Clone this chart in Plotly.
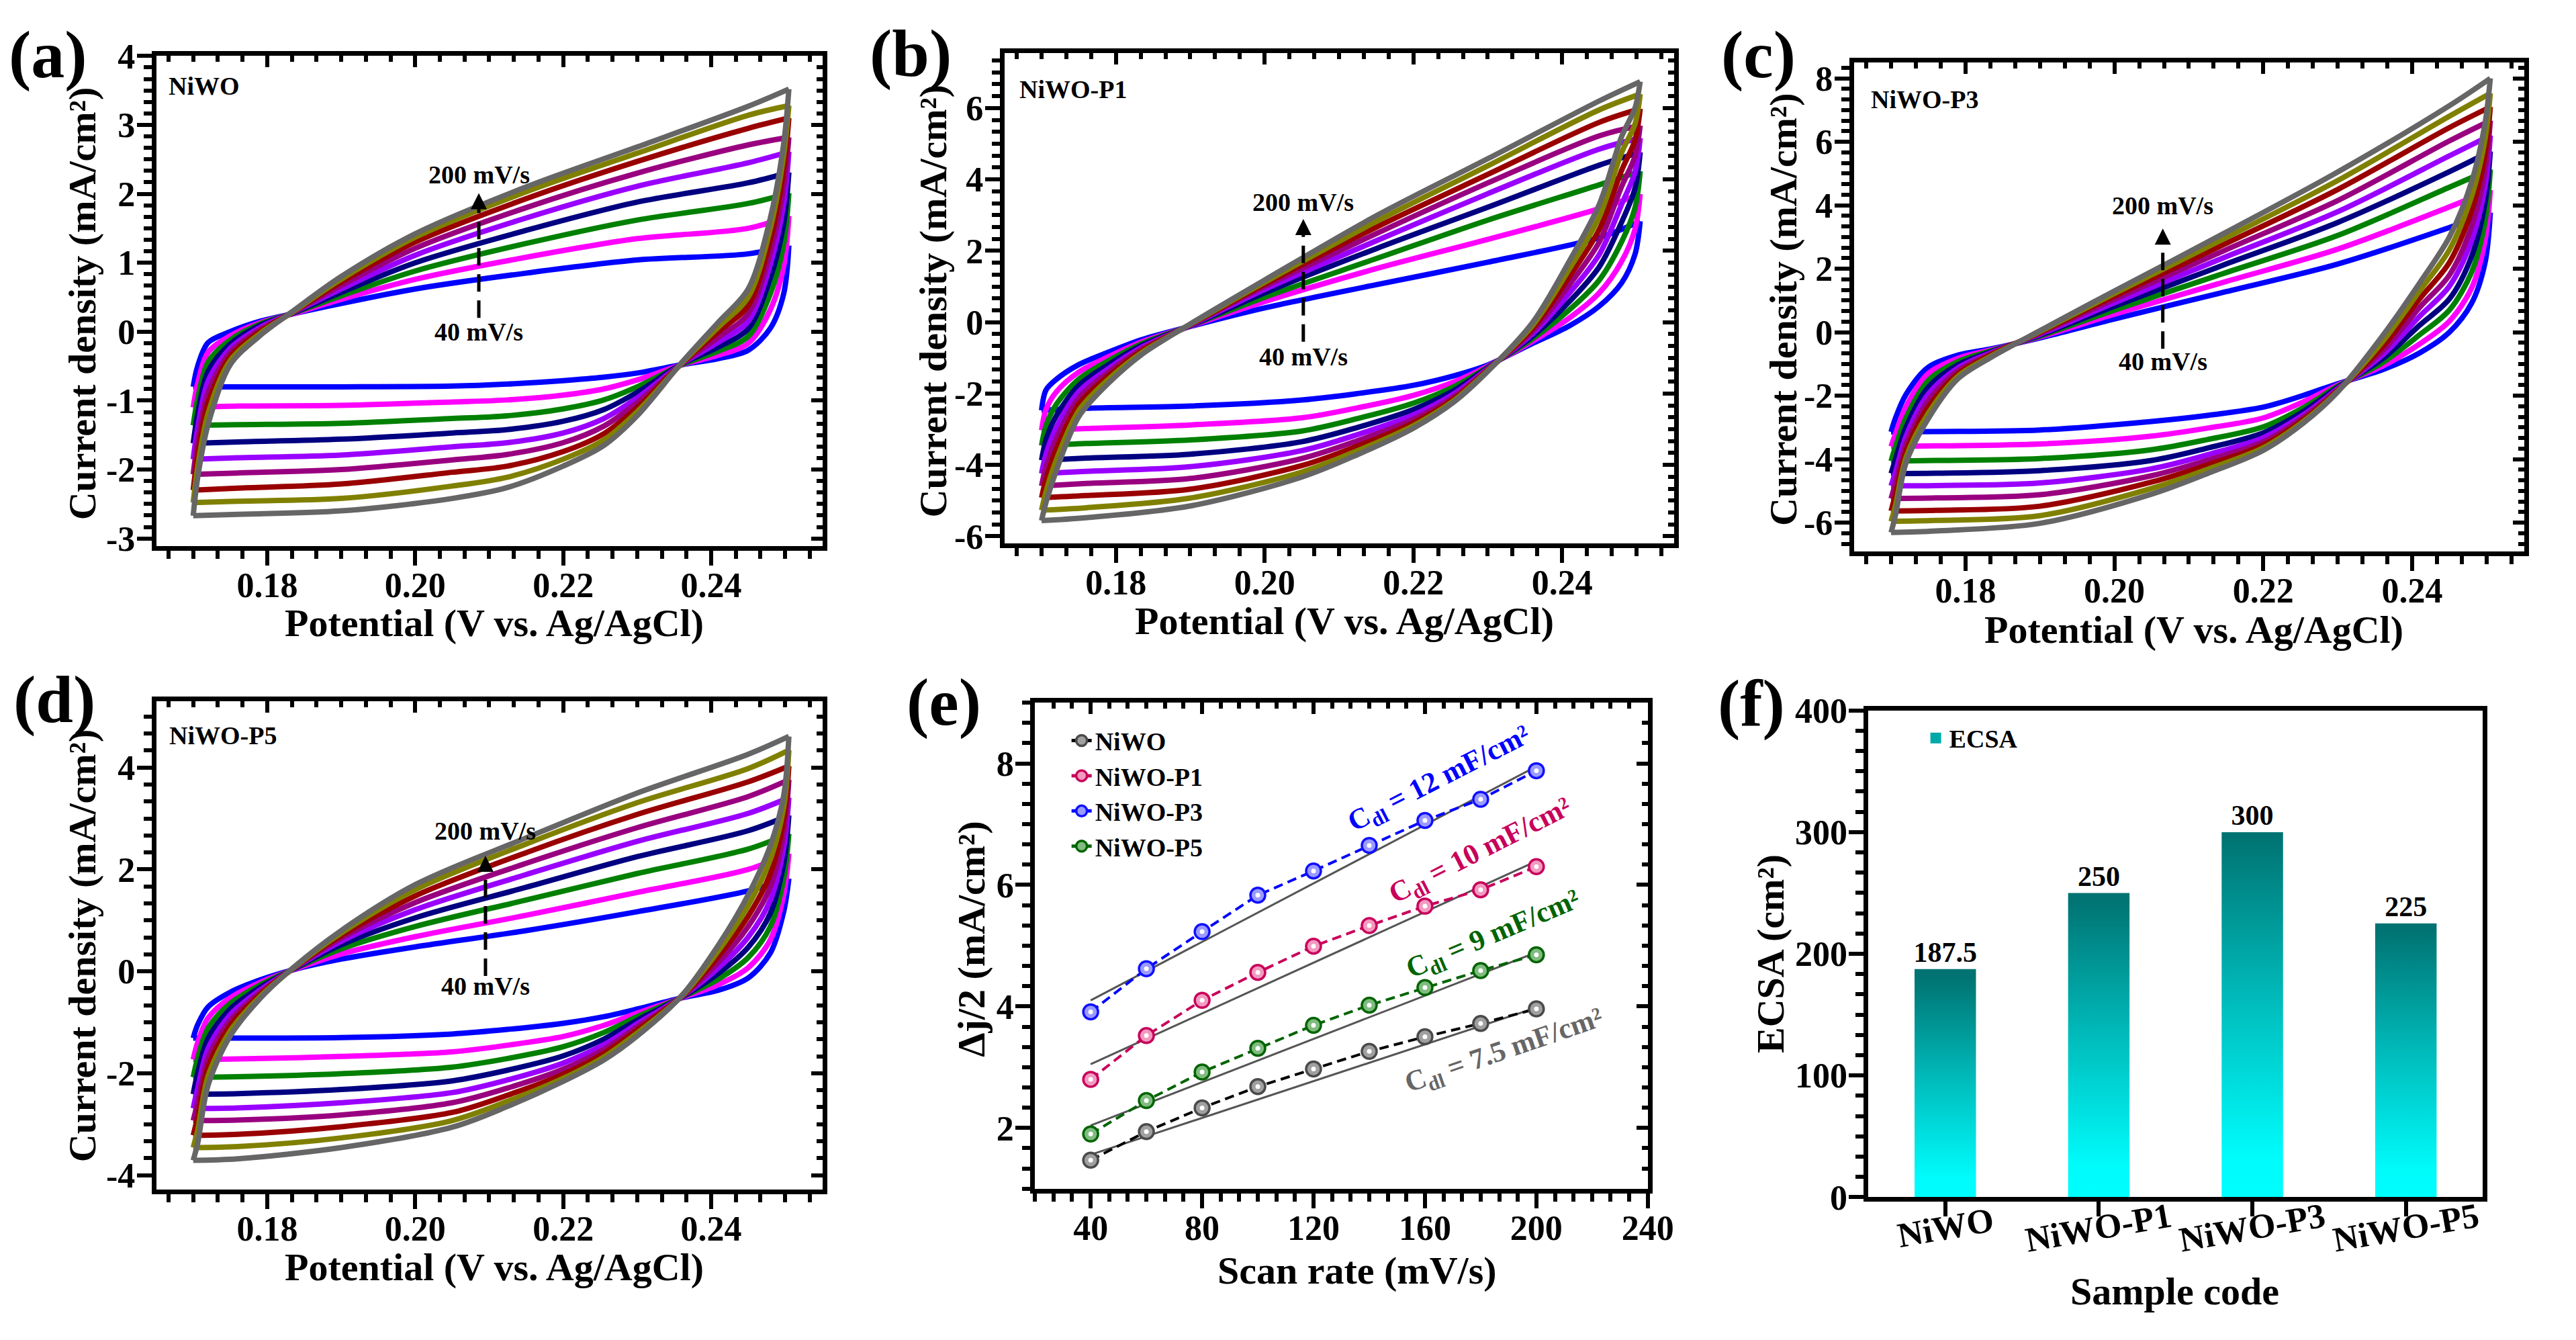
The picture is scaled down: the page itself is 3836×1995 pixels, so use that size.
import plotly.graph_objects as go

W, H = 3836, 1995
FONT = "Liberation Serif"

# ---------------------------------------------------------------- CV data (a-d)
SCAN_RATES = [40, 60, 80, 100, 120, 140, 160, 180, 200]  # mV/s
CV_COLORS = ["#0000FF", "#FF00FF", "#008000", "#000080", "#9900FF",
             "#990080", "#990000", "#808000", "#666666"]

# potentials (V) of the forward (anodic) and reverse (cathodic) branches
UP_X = [0.1700, 0.1706, 0.1720, 0.1750, 0.1790, 0.1835, 0.1900, 0.2000, 0.2150, 0.2300, 0.2450, 0.2505]
LO_X = [0.2505, 0.2498, 0.2480, 0.2450, 0.2410, 0.2360, 0.2300, 0.2255, 0.2200, 0.2125, 0.2050,
        0.1900, 0.1760, 0.1700]

# rows follow UP_X / LO_X, columns follow SCAN_RATES (mA/cm2)
A_UP = [
    [-0.80, -1.10, -1.36, -1.62, -1.85, -2.07, -2.30, -2.48, -2.67],
    [-0.50, -0.75, -0.98, -1.20, -1.40, -1.60, -1.80, -1.97, -2.12],
    [-0.16, -0.30, -0.44, -0.58, -0.72, -0.88, -1.03, -1.19, -1.35],
    [0.00, -0.06, -0.12, -0.18, -0.24, -0.30, -0.36, -0.42, -0.48],
    [0.15, 0.13, 0.11, 0.09, 0.06, 0.03, 0.00, -0.03, -0.06],
    [0.26, 0.26, 0.27, 0.27, 0.28, 0.28, 0.29, 0.29, 0.30],
    [0.41, 0.47, 0.52, 0.57, 0.62, 0.67, 0.72, 0.76, 0.80],
    [0.62, 0.76, 0.88, 1.00, 1.11, 1.21, 1.30, 1.37, 1.42],
    [0.85, 1.08, 1.28, 1.47, 1.65, 1.80, 1.93, 2.03, 2.10],
    [1.04, 1.35, 1.62, 1.88, 2.11, 2.30, 2.47, 2.59, 2.68],
    [1.13, 1.50, 1.86, 2.16, 2.45, 2.71, 2.95, 3.14, 3.27],
    [1.25, 1.68, 2.01, 2.31, 2.61, 2.82, 3.10, 3.28, 3.52],
]
A_LO = [
    [1.25, 1.68, 2.01, 2.31, 2.61, 2.82, 3.10, 3.28, 3.52],
    [0.55, 0.95, 1.27, 1.57, 1.85, 2.10, 2.35, 2.56, 2.73],
    [0.05, 0.32, 0.55, 0.78, 0.98, 1.15, 1.33, 1.50, 1.65],
    [-0.27, -0.17, -0.07, 0.04, 0.15, 0.26, 0.38, 0.50, 0.62],
    [-0.39, -0.34, -0.28, -0.22, -0.15, -0.08, 0.00, 0.07, 0.14],
    [-0.48, -0.48, -0.48, -0.47, -0.47, -0.47, -0.46, -0.46, -0.45],
    [-0.60, -0.70, -0.80, -0.88, -0.96, -1.03, -1.10, -1.16, -1.22],
    [-0.66, -0.83, -0.99, -1.13, -1.26, -1.37, -1.48, -1.57, -1.65],
    [-0.71, -0.92, -1.12, -1.30, -1.47, -1.61, -1.74, -1.85, -1.95],
    [-0.76, -0.99, -1.22, -1.42, -1.61, -1.78, -1.95, -2.11, -2.26],
    [-0.79, -1.02, -1.26, -1.47, -1.67, -1.86, -2.04, -2.24, -2.42],
    [-0.80, -1.07, -1.33, -1.56, -1.79, -2.00, -2.21, -2.42, -2.60],
    [-0.80, -1.08, -1.35, -1.60, -1.83, -2.05, -2.27, -2.46, -2.65],
    [-0.80, -1.10, -1.36, -1.62, -1.85, -2.07, -2.30, -2.48, -2.67],
]

B_UP = [
    [-2.47, -3.03, -3.46, -3.87, -4.24, -4.59, -4.92, -5.27, -5.56],
    [-1.90, -2.45, -2.90, -3.30, -3.70, -4.05, -4.40, -4.75, -5.05],
    [-1.60, -1.95, -2.30, -2.62, -2.95, -3.25, -3.55, -3.85, -4.15],
    [-1.19, -1.40, -1.60, -1.78, -1.95, -2.12, -2.30, -2.48, -2.65],
    [-0.84, -0.97, -1.08, -1.19, -1.30, -1.40, -1.50, -1.60, -1.71],
    [-0.49, -0.55, -0.60, -0.65, -0.70, -0.75, -0.80, -0.85, -0.90],
    [-0.12, -0.11, -0.10, -0.10, -0.09, -0.08, -0.07, -0.06, -0.05],
    [0.40, 0.58, 0.70, 0.82, 0.92, 1.00, 1.06, 1.12, 1.18],
    [1.05, 1.50, 1.78, 2.06, 2.28, 2.48, 2.66, 2.82, 2.98],
    [1.68, 2.32, 2.86, 3.22, 3.60, 3.90, 4.14, 4.38, 4.58],
    [2.37, 3.18, 3.85, 4.40, 4.85, 5.22, 5.60, 5.95, 6.20],
    [2.83, 3.59, 4.23, 4.76, 5.16, 5.51, 5.98, 6.39, 6.74],
]
B_LO = [
    [2.83, 3.59, 4.23, 4.76, 5.16, 5.51, 5.98, 6.39, 6.74],
    [1.90, 2.60, 3.20, 3.75, 4.20, 4.65, 5.10, 5.55, 6.00],
    [1.10, 1.70, 2.25, 2.80, 3.30, 3.80, 4.25, 4.75, 5.20],
    [0.45, 0.82, 1.18, 1.55, 1.90, 2.25, 2.60, 2.95, 3.30],
    [-0.10, 0.12, 0.35, 0.58, 0.82, 1.05, 1.28, 1.50, 1.72],
    [-0.60, -0.54, -0.47, -0.40, -0.33, -0.26, -0.18, -0.10, -0.02],
    [-1.20, -1.23, -1.26, -1.28, -1.30, -1.32, -1.34, -1.36, -1.38],
    [-1.50, -1.67, -1.80, -1.91, -2.00, -2.08, -2.14, -2.19, -2.23],
    [-1.77, -2.05, -2.27, -2.45, -2.60, -2.72, -2.82, -2.90, -2.97],
    [-2.00, -2.40, -2.70, -2.95, -3.15, -3.32, -3.47, -3.60, -3.71],
    [-2.18, -2.68, -3.05, -3.35, -3.60, -3.82, -4.02, -4.20, -4.34],
    [-2.35, -2.88, -3.30, -3.70, -4.05, -4.38, -4.68, -4.93, -5.15],
    [-2.41, -2.98, -3.40, -3.81, -4.18, -4.52, -4.86, -5.20, -5.48],
    [-2.47, -3.03, -3.46, -3.87, -4.24, -4.59, -4.92, -5.27, -5.56],
]

C_UP = [
    [-3.14, -3.60, -4.06, -4.45, -4.84, -5.24, -5.63, -5.96, -6.31],
    [-2.70, -3.20, -3.60, -4.00, -4.40, -4.75, -5.10, -5.45, -5.75],
    [-1.96, -2.35, -2.70, -3.00, -3.28, -3.52, -3.75, -3.95, -4.12],
    [-1.10, -1.30, -1.52, -1.73, -1.95, -2.15, -2.35, -2.55, -2.72],
    [-0.72, -0.82, -0.92, -1.02, -1.12, -1.21, -1.30, -1.38, -1.46],
    [-0.52, -0.55, -0.58, -0.61, -0.64, -0.67, -0.70, -0.74, -0.78],
    [-0.18, -0.15, -0.12, -0.09, -0.06, -0.03, 0.00, 0.02, 0.05],
    [0.42, 0.57, 0.70, 0.82, 0.93, 1.04, 1.14, 1.22, 1.30],
    [1.28, 1.60, 1.88, 2.15, 2.38, 2.60, 2.80, 2.98, 3.15],
    [2.15, 2.62, 3.05, 3.46, 3.80, 4.15, 4.50, 4.78, 5.05],
    [3.30, 3.95, 4.57, 5.06, 5.56, 6.03, 6.45, 6.81, 7.14],
    [3.77, 4.48, 5.13, 5.70, 6.20, 6.67, 7.10, 7.53, 8.00],
]
C_LO = [
    [3.77, 4.48, 5.13, 5.70, 6.20, 6.67, 7.10, 7.53, 8.00],
    [2.20, 2.90, 3.50, 4.10, 4.60, 5.10, 5.60, 6.10, 6.60],
    [0.92, 1.40, 1.90, 2.40, 2.90, 3.35, 3.85, 4.30, 4.75],
    [0.00, 0.35, 0.70, 1.05, 1.45, 1.80, 2.20, 2.60, 3.00],
    [-0.65, -0.37, -0.08, 0.22, 0.50, 0.78, 1.05, 1.30, 1.55],
    [-1.18, -1.07, -0.96, -0.84, -0.72, -0.60, -0.46, -0.30, -0.12],
    [-1.62, -1.66, -1.70, -1.74, -1.78, -1.81, -1.84, -1.86, -1.88],
    [-1.98, -2.18, -2.36, -2.48, -2.58, -2.66, -2.73, -2.79, -2.84],
    [-2.36, -2.70, -2.98, -3.17, -3.32, -3.45, -3.55, -3.64, -3.72],
    [-2.62, -3.02, -3.38, -3.65, -3.86, -4.03, -4.18, -4.32, -4.45],
    [-2.81, -3.27, -3.70, -4.04, -4.30, -4.52, -4.72, -4.92, -5.10],
    [-3.08, -3.52, -3.98, -4.36, -4.75, -5.12, -5.48, -5.78, -6.02],
    [-3.13, -3.58, -4.04, -4.44, -4.83, -5.22, -5.61, -5.93, -6.26],
    [-3.14, -3.60, -4.06, -4.45, -4.84, -5.24, -5.63, -5.96, -6.31],
]

D_UP = [
    [-1.31, -1.73, -2.08, -2.41, -2.69, -2.93, -3.22, -3.46, -3.71],
    [-1.05, -1.40, -1.70, -2.00, -2.30, -2.58, -2.86, -3.12, -3.38],
    [-0.70, -0.92, -1.12, -1.32, -1.52, -1.70, -1.88, -2.06, -2.24],
    [-0.41, -0.52, -0.63, -0.74, -0.85, -0.96, -1.06, -1.17, -1.27],
    [-0.17, -0.22, -0.27, -0.32, -0.37, -0.42, -0.46, -0.50, -0.54],
    [0.03, 0.03, 0.04, 0.04, 0.05, 0.05, 0.06, 0.06, 0.07],
    [0.24, 0.34, 0.44, 0.52, 0.59, 0.65, 0.70, 0.75, 0.80],
    [0.48, 0.68, 0.88, 1.05, 1.21, 1.35, 1.48, 1.60, 1.70],
    [0.80, 1.10, 1.40, 1.65, 1.90, 2.12, 2.33, 2.50, 2.62],
    [1.17, 1.55, 1.92, 2.25, 2.55, 2.82, 3.08, 3.31, 3.50],
    [1.58, 2.00, 2.40, 2.76, 3.10, 3.43, 3.72, 3.98, 4.26],
    [1.82, 2.31, 2.70, 3.06, 3.41, 3.76, 4.03, 4.34, 4.61],
]
D_LO = [
    [1.82, 2.31, 2.70, 3.06, 3.41, 3.76, 4.03, 4.34, 4.61],
    [1.17, 1.50, 1.82, 2.12, 2.42, 2.70, 2.98, 3.22, 3.45],
    [0.36, 0.62, 0.88, 1.14, 1.40, 1.66, 1.92, 2.20, 2.47],
    [-0.13, 0.07, 0.27, 0.47, 0.67, 0.88, 1.08, 1.29, 1.50],
    [-0.37, -0.26, -0.15, -0.04, 0.07, 0.18, 0.30, 0.41, 0.52],
    [-0.52, -0.52, -0.51, -0.51, -0.50, -0.50, -0.49, -0.49, -0.48],
    [-0.74, -0.82, -0.89, -0.96, -1.03, -1.09, -1.15, -1.21, -1.27],
    [-0.89, -1.06, -1.20, -1.33, -1.44, -1.53, -1.61, -1.68, -1.74],
    [-1.02, -1.28, -1.48, -1.66, -1.80, -1.92, -2.02, -2.10, -2.16],
    [-1.14, -1.45, -1.71, -1.94, -2.13, -2.29, -2.43, -2.55, -2.65],
    [-1.23, -1.58, -1.88, -2.15, -2.38, -2.58, -2.77, -2.93, -3.06],
    [-1.30, -1.67, -2.01, -2.32, -2.58, -2.82, -3.05, -3.27, -3.46],
    [-1.31, -1.72, -2.07, -2.40, -2.68, -2.92, -3.20, -3.44, -3.68],
    [-1.31, -1.73, -2.08, -2.41, -2.69, -2.93, -3.22, -3.46, -3.71],
]

# ---------------------------------------------------------------- panel (e)
E_RATES = [40, 60, 80, 100, 120, 140, 160, 180, 200]
E_NAMES = ["NiWO", "NiWO-P1", "NiWO-P3", "NiWO-P5"]
E_NIWO = [1.47, 1.94, 2.33, 2.68, 2.97, 3.26, 3.50, 3.72, 3.96]
E_P1 = [2.80, 3.52, 4.10, 4.56, 4.99, 5.33, 5.65, 5.92, 6.30]
E_P3 = [3.91, 4.62, 5.23, 5.83, 6.23, 6.65, 7.06, 7.41, 7.88]
E_P5 = [1.90, 2.45, 2.92, 3.31, 3.69, 4.02, 4.31, 4.59, 4.85]
FIT_X = [40, 200]
FIT_NIWO = [1.56, 3.98]
FIT_P1 = [3.05, 6.39]
FIT_P3 = [4.10, 7.95]
FIT_P5 = [2.04, 4.89]
CDL = [7.5, 10, 12, 9]  # mF/cm2, order of E_NAMES

# ---------------------------------------------------------------- panel (f)
SAMPLES = ["NiWO", "NiWO-P1", "NiWO-P3", "NiWO-P5"]
ECSA = [187.5, 250, 300, 225]

# ================================================================ layout helpers
BOX = {  # pixel boxes: x0, x1, ytop, ybottom
    "a": (235, 1238, 57, 808),
    "b": (1511, 2519, 52, 804),
    "c": (2789, 3798, 67, 816),
    "d": (235, 1238, 1046, 1794),
    "e": (1557, 2479, 1048, 1793),
    "f": (2811, 3735, 1060, 1806),
}


def xdom(p):
    b = BOX[p]
    return [b[0] / W, b[1] / W]


def ydom(p):
    b = BOX[p]
    return [1 - b[3] / H, 1 - b[2] / H]


def bold(size, color="black"):
    return dict(family=FONT, size=size, color=color, weight="bold")


def main_axis(dom, rng, anchor, dtick=None, tick0=None, mdtick=None,
              tickvals=None, ticktext=None, tickformat=None, standoff=-15):
    d = dict(domain=dom, range=rng, anchor=anchor, showline=True, linewidth=7,
             linecolor="black", mirror=True, ticks="outside", ticklen=22,
             tickwidth=6, tickcolor="black", showgrid=False, zeroline=False,
             tickfont=bold(52), ticklabelstandoff=standoff)
    if tickvals is not None:
        d.update(tickmode="array", tickvals=tickvals, ticktext=ticktext)
    else:
        d.update(tickmode="linear", dtick=dtick, tick0=tick0)
    if tickformat:
        d["tickformat"] = tickformat
    if mdtick:
        d["minor"] = dict(tickmode="linear", tick0=tick0 if tick0 is not None else 0,
                          dtick=mdtick, ticks="outside", ticklen=12, tickwidth=6,
                          tickcolor="black", showgrid=False)
    return d


def mirror_axis(base, anchor, side, rng, dtick, tick0, mdtick):
    return dict(overlaying=base, anchor=anchor, side=side, range=rng,
                tickmode="linear", dtick=dtick, tick0=tick0, ticks="inside",
                ticklen=17, tickwidth=6, tickcolor="black", showticklabels=False,
                showline=False, showgrid=False, zeroline=False,
                minor=dict(tickmode="linear", tick0=tick0, dtick=mdtick,
                           ticks="inside", ticklen=9, tickwidth=6,
                           tickcolor="black", showgrid=False))


fig = go.Figure()
layout = dict(width=W, height=H, margin=dict(l=0, r=0, t=0, b=0),
              paper_bgcolor="white", plot_bgcolor="white",
              font=dict(family=FONT, size=38, color="black", weight="bold"),
              hovermode=False, annotations=[])
ann = layout["annotations"]


def paper_text(text, px, py, size, angle=0, xanchor="center", yanchor="middle", color="black"):
    ann.append(dict(x=px / W, y=1 - py / H, xref="paper", yref="paper", text=text,
                    showarrow=False, xanchor=xanchor, yanchor=yanchor,
                    textangle=angle, font=bold(size, color)))


XR = [0.1650, 0.2551]
CV = [
    # panel, axis suffix, up, lo, yrange, ytick step, minor step, sample label
    ("a", "", A_UP, A_LO, [-3.11, 4.0], 1, 1 / 6, "NiWO"),
    ("b", "2", B_UP, B_LO, [-6.2, 7.55], 2, 1 / 3, "NiWO-P1"),
    ("c", "3", C_UP, C_LO, [-6.9, 8.5], 2, 1 / 3, "NiWO-P3"),
    ("d", "4", D_UP, D_LO, [-4.28, 5.3], 2, 1 / 3, "NiWO-P5"),
]
MIRROR_ID = {"a": "7", "b": "8", "c": "9", "d": "10", "e": "11"}

ARROW = {  # x, y_start, y_tip, y of "200 mV/s", y of "40 mV/s"   (data units)
    "a": (0.2086, 0.20, 2.01, 2.28, 0.00),
    "b": (0.2052, -0.55, 2.89, 3.36, -0.96),
    "c": (0.2065, -0.52, 3.27, 3.99, -0.92),
    "d": (0.2095, -0.09, 2.27, 2.76, -0.29),
}
SAMPLE_POS = {"a": (252, 103), "b": (1532, 108), "c": (2813, 124), "d": (253, 1098)}

for p, s, up, lo, yr, step, mstep, label in CV:
    xa, ya = "x" + s, "y" + s
    for k, rate in enumerate(SCAN_RATES):
        for xs, rows in ((UP_X, up), (LO_X, lo)):
            fig.add_trace(go.Scatter(
                x=xs, y=[r[k] for r in rows], mode="lines",
                line=dict(color=CV_COLORS[k], width=8, shape="spline", smoothing=0.9),
                xaxis=xa, yaxis=ya, showlegend=False, name=f"{rate} mV/s"))
    tv = []
    v = (int(yr[0] // step) + 1) * step
    while v <= yr[1] + 1e-9:
        tv.append(int(v))
        v += step
    layout["xaxis" + s] = main_axis(xdom(p), XR, ya, dtick=0.02, tick0=0.18,
                                    mdtick=0.02 / 6, tickformat=".2f")
    layout["yaxis" + s] = main_axis(ydom(p), yr, xa, tick0=0, mdtick=mstep,
                                    tickvals=tv, ticktext=[str(t) for t in tv],
                                    standoff=-8)
    m = MIRROR_ID[p]
    layout["xaxis" + m] = mirror_axis(xa, ya, "top", XR, 0.02, 0.18, 0.02 / 6)
    layout["yaxis" + m] = mirror_axis(ya, xa, "right", yr, step, 0, mstep)
    fig.add_trace(go.Scatter(x=[None], y=[None], xaxis="x" + m, yaxis=ya, showlegend=False))
    fig.add_trace(go.Scatter(x=[None], y=[None], xaxis=xa, yaxis="y" + m, showlegend=False))

    ax_, y0, y1, ytop, ybot = ARROW[p]
    span = yr[1] - yr[0]
    fig.add_trace(go.Scatter(x=[ax_, ax_], y=[y0, y1 - 0.02 * span], mode="lines",
                             line=dict(color="black", width=5, dash="26px,13px"),
                             xaxis=xa, yaxis=ya, showlegend=False))
    fig.add_trace(go.Scatter(x=[ax_], y=[y1], mode="markers",
                             marker=dict(symbol="arrow-up", size=24, color="black",
                                         line=dict(width=0)),
                             xaxis=xa, yaxis=ya, showlegend=False))
    ann.append(dict(x=ax_, y=ytop, xref=xa, yref=ya, text="200 mV/s", showarrow=False,
                    font=bold(38)))
    ann.append(dict(x=ax_, y=ybot, xref=xa, yref=ya, text="40 mV/s", showarrow=False,
                    font=bold(38)))
    sx, sy = SAMPLE_POS[p]
    paper_text(label, sx, sy, 38, xanchor="left")

# ---------------------------------------------------------------- panel (e)
E_SERIES = [E_NIWO, E_P1, E_P3, E_P5]
E_FITS = [FIT_NIWO, FIT_P1, FIT_P3, FIT_P5]
E_LINE = ["#000000", "#C8005A", "#0000FF", "#006400"]
E_RING = ["#4A4A4A", "#C8005A", "#1010FF", "#006400"]
E_FILL = ["#A0A0A0", "#F29AC0", "#9A9AFF", "#80BB80"]
CDL_COLORS = ["#666666", "#C8005A", "#0000FF", "#006400"]

for i, name in enumerate(E_NAMES):
    fig.add_trace(go.Scatter(x=FIT_X, y=E_FITS[i], mode="lines",
                             line=dict(color="#555555", width=3),
                             xaxis="x5", yaxis="y5", showlegend=False))
for i, name in enumerate(E_NAMES):
    mk = dict(symbol="circle", size=22, color=E_FILL[i], line=dict(color=E_RING[i], width=3.5))
    fig.add_trace(go.Scatter(x=E_RATES, y=E_SERIES[i], mode="lines+markers",
                             line=dict(color=E_LINE[i], width=4, dash="14px,8px"),
                             marker=mk, xaxis="x5", yaxis="y5", showlegend=False))
    fig.add_trace(go.Scatter(x=E_RATES, y=E_SERIES[i], mode="markers",
                             marker=dict(symbol="circle", size=7, color="white"),
                             xaxis="x5", yaxis="y5", showlegend=False))
    fig.add_trace(go.Scatter(x=[None], y=[None], mode="lines+markers", name=name,
                             line=dict(color=E_LINE[i], width=5), marker=mk,
                             xaxis="x5", yaxis="y5", showlegend=True, legend="legend"))

layout["xaxis5"] = main_axis(xdom("e"), [20, 240], "y5", dtick=40, tick0=40, mdtick=40 / 6)
layout["yaxis5"] = main_axis(ydom("e"), [1, 9], "x5", dtick=2, tick0=0, mdtick=1 / 3,
                             standoff=-8)
layout["xaxis11"] = mirror_axis("x5", "y5", "top", [20, 240], 40, 40, 40 / 6)
layout["yaxis11"] = mirror_axis("y5", "x5", "right", [1, 9], 2, 0, 1 / 3)
fig.add_trace(go.Scatter(x=[None], y=[None], xaxis="x11", yaxis="y5", showlegend=False))
fig.add_trace(go.Scatter(x=[None], y=[None], xaxis="x5", yaxis="y11", showlegend=False))

CDL_POS = [(188.5, 3.25, -19), (180.1, 6.55, -27), (165.3, 7.73, -27), (184.5, 5.17, -23)]
for i, v in enumerate(CDL):
    x_, y_, ang = CDL_POS[i]
    ann.append(dict(x=x_, y=y_, xref="x5", yref="y5", showarrow=False, textangle=ang,
                    text=f"C<sub>dl</sub> = {v:g} mF/cm\u00b2",
                    font=bold(43, CDL_COLORS[i])))

layout["legend"] = dict(x=1607 / W, y=1 - 1074 / H, xanchor="left", yanchor="top",
                        bgcolor="rgba(0,0,0,0)", font=bold(38), tracegroupgap=0)

# ---------------------------------------------------------------- panel (f)
BAR_W = 0.4
GRAD = [[0.0, "#00FFFF"], [0.15, "#00FBFB"], [0.55, "#00BDBD"], [1.0, "#007372"]]
for i, (s, v) in enumerate(zip(SAMPLES, ECSA)):
    x0, x1 = i - BAR_W / 2, i + BAR_W / 2
    fig.add_trace(go.Scatter(
        x=[x0, x1, x1, x0, x0], y=[0, 0, v, v, 0], mode="lines", fill="toself",
        line=dict(width=0, color="#00BDBD"),
        fillgradient=dict(type="vertical", colorscale=GRAD, start=0, stop=v),
        xaxis="x6", yaxis="y6", showlegend=False))
fig.add_trace(go.Scatter(x=[None], y=[None], mode="markers", name="ECSA",
                         marker=dict(symbol="square", size=30, color="#00A8A8"),
                         xaxis="x6", yaxis="y6", showlegend=True, legend="legend2"))
fig.add_trace(go.Scatter(x=list(range(len(SAMPLES))), y=ECSA, mode="text",
                         text=[f"{v:g}" for v in ECSA], textposition="top center",
                         textfont=bold(42), xaxis="x6", yaxis="y6", showlegend=False,
                         cliponaxis=False))
layout["xaxis6"] = main_axis(xdom("f"), [-0.5, 3.5], "y6",
                             tickvals=list(range(len(SAMPLES))), ticktext=SAMPLES)
layout["xaxis6"]["showticklabels"] = False
layout["yaxis6"] = main_axis(ydom("f"), [0, 400], "x6", dtick=100, tick0=0, mdtick=100 / 6,
                             standoff=-8)
layout["legend2"] = dict(x=2892 / W, y=1 - 1070 / H, xanchor="left", yanchor="top",
                         bgcolor="rgba(0,0,0,0)", font=bold(38), itemsizing="trace")
for i, s in enumerate(SAMPLES):
    ann.append(dict(x=i, y=1 - 1852 / H, xref="x6", yref="paper", text=s, showarrow=False,
                    textangle=-10, xanchor="center", yanchor="middle", font=bold(52)))

# ---------------------------------------------------------------- axis titles
XT = "Potential (V vs. Ag/AgCl)"
YT = "Current density (mA/cm\u00b2)"
X_TITLES = [(XT, 744, 926), (XT, 2023, 923), (XT, 3301, 936), (XT, 744, 1913),
            ("Scan rate (mV/s)", 2042, 1918), ("Sample code", 3272, 1950)]
Y_TITLES = [(YT, 124, 436), (YT, 1404, 432), (YT, 2683, 445), (YT, 124, 1420),
            ("\u0394j/2 (mA/cm\u00b2)", 1462, 1410), ("ECSA (cm\u00b2)", 2663, 1433)]
for t, px, py in X_TITLES:
    paper_text(t, px, py, 58)
for t, px, py in Y_TITLES:
    paper_text(t, px, py, 58, angle=-90)

# ---------------------------------------------------------------- panel letters
LETTERS = [("(a)", 72, -4), ("(b)", 1370, -6), ("(c)", 2645, -4),
           ("(d)", 82, 984), ("(e)", 1420, 988), ("(f)", 2635, 990)]
for t, px, py in LETTERS:
    paper_text(t, px, py, 100, yanchor="top")

fig.update_layout(**layout)
fig.write_html("out.html")
